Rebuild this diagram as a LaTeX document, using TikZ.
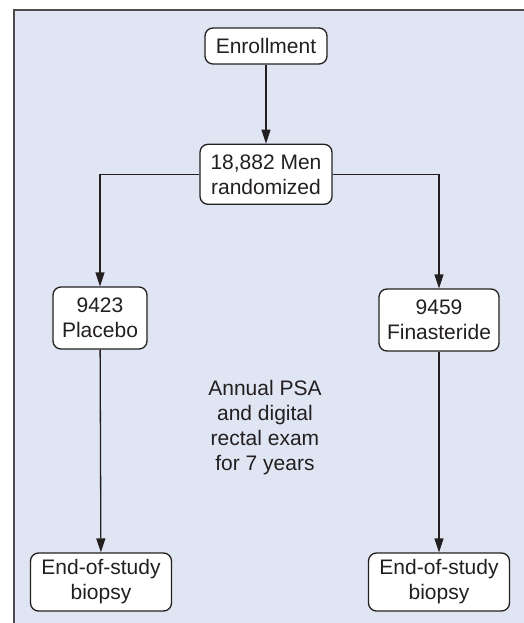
\documentclass[tikz,border=0pt]{standalone}
\usepackage{fontspec}
\setmainfont{Liberation Sans}
\usetikzlibrary{arrows.meta, positioning}
\definecolor{panelblue}{RGB}{223,229,243}
\definecolor{inkgray}{RGB}{35,31,32}

\begin{document}
\begin{tikzpicture}[x=1pt, y=1pt,
      font=\fontsize{21}{25}\selectfont, text=inkgray,
      box/.style={draw=inkgray, line width=1.3pt, rounded corners=8pt, fill=white, align=center, inner sep=0pt},
      arr/.style={-{Triangle[length=14pt, width=9pt]}, line width=1.3pt, draw=inkgray}
    ]
    \useasboundingbox (0,0) rectangle (524,-623);
    % panel behind the chart
    \fill[panelblue] (13.5,-10.5) rectangle (524,-623);
    \draw[line width=2pt, gray!60!black] (13.5,-623) -- (13.5,-10.5) -- (524,-10.5);

    \node[box, minimum width=122pt, minimum height=36pt] (enroll) at (266,-46) {Enrollment};
    \node[box, minimum width=132pt, minimum height=60pt, below=79pt of enroll] (rand) {18,882 Men\\randomized};
    \node[box, minimum width=94pt, minimum height=62pt] (plac) at (100,-318) {9423\\Placebo};
    \node[box, minimum width=120pt, minimum height=62pt] (fin) at (439,-320) {9459\\Finasteride};
    \node[box, minimum width=141pt, minimum height=58pt] (endL) at (101,-582) {End-of-study\\biopsy};
    \node[box, minimum width=141pt, minimum height=58pt] (endR) at (439,-582) {End-of-study\\biopsy};
    \node[align=center] (exam) at (265,-428) {Annual PSA\\and digital\\rectal exam\\for 7 years};

    \draw[arr] (enroll) -- (rand);
    \draw[arr] (rand) -| (plac);
    \draw[arr] (rand) -| (fin);
    \draw[arr] (plac) -- (endL);
    \draw[arr] (fin) -- (endR);
  \end{tikzpicture}
\end{document}
